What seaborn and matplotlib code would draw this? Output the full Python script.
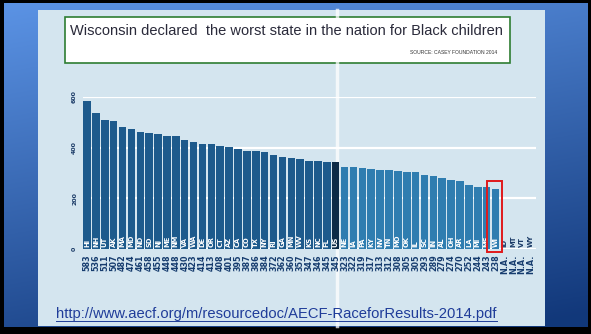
import numpy as np
import pandas as pd
import matplotlib.pyplot as plt
import seaborn as sns
from matplotlib.patches import Rectangle
from matplotlib.lines import Line2D

# Race for Results index, Black children, 2014
states = ["HI", "NH", "UT", "AK", "MA", "MD", "ND", "SD", "NJ", "ME", "NM", "VA", "WA",
          "DE", "OR", "CT", "AZ", "CA", "CO", "TX", "NY", "RI", "GA", "MN", "WV", "KS",
          "NC", "FL", "US", "NE", "IA", "PA", "KY", "NV", "TN", "MO", "OK", "IL", "SC",
          "IN", "AL", "OH", "AR", "LA", "MI", "MS", "WI"]
scores = [583, 536, 511, 507, 482, 474, 461, 458, 455, 448, 448, 430, 423,
          414, 413, 408, 401, 395, 387, 386, 384, 372, 362, 360, 357, 347,
          346, 345, 345, 323, 322, 319, 317, 313, 312, 308, 305, 305, 293,
          289, 279, 274, 270, 252, 244, 243, 238]
na_states = ["ID", "MT", "VT", "WY"]
yticks = [0, 200, 400, 600]

groups = []
for s in states:
    if s == "US":
        groups.append("us")
    elif states.index(s) < states.index("US"):
        groups.append("above")
    else:
        groups.append("below")
df = pd.DataFrame({"state": states, "score": scores, "group": groups})
order = states + na_states

W, H = 591, 334
fig = plt.figure(figsize=(W / 100, H / 100), dpi=100)

# slide background
bg = fig.add_axes([0, 0, 1, 1])
xx, yy = np.meshgrid(np.linspace(0, 1, 200), np.linspace(0, 1, 200))
top = np.array([0.36, 0.58, 0.90])
bot = np.array([0.07, 0.22, 0.48])
t = np.clip(yy * 0.8 + xx * 0.25, 0, 1)[..., None]
img = top * (1 - t) + bot * t
bg.imshow(img, extent=[0, 1, 0, 1], aspect="auto", origin="upper")
bg.set_xlim(0, 1)
bg.set_ylim(0, 1)
bg.axis("off")

def px(x0, y0, x1, y1, **kw):
    bg.add_patch(Rectangle((x0 / W, 1 - y1 / H), (x1 - x0) / W, (y1 - y0) / H, **kw))

px(0, 0, W, 3, color="black", lw=0)
px(0, 0, 4, H, color="black", lw=0)
px(W - 3, 0, W, H, color="black", lw=0)
px(0, 327, W, H, color="black", lw=0)
px(38, 10, 545, 326, color="#d4e5ef", lw=0)
bg.add_line(Line2D([337 / W, 337 / W], [1 - 326 / H, 1 - 10 / H], color="white", lw=2.5, alpha=0.75))
px(65, 17, 510, 63, facecolor="white", edgecolor="#2e7d32", lw=1.2)
bg.text(70 / W, 1 - 31 / H, "Wisconsin declared  the worst state in the nation for Black children",
        fontsize=10.5, family="Liberation Sans", color="#2a2a3a", va="center", ha="left")
bg.text(497 / W, 1 - 53 / H, "SOURCE: CASEY FOUNDATION 2014", fontsize=3.6,
        family="Liberation Sans", color="#333333", va="center", ha="right")
bg.text(56 / W, 1 - 314 / H, "http://www.aecf.org/m/resourcedoc/AECF-RaceforResults-2014.pdf",
        fontsize=10.6, family="Liberation Sans", color="#1f3c99", va="center", ha="left")
bg.add_line(Line2D([56 / W, 497 / W], [1 - 321 / H, 1 - 321 / H], color="#1f3c99", lw=0.7))

# chart
ax = fig.add_axes([82.6 / W, 85 / H, (535.5 - 82.6) / W, 152 / H])
ax.patch.set_alpha(0)
palette = {"above": "#1d5a8c", "us": "#0c2a46", "below": "#2f7db0"}
sns.barplot(data=df, x="state", y="score", hue="group", order=order, palette=palette,
            dodge=False, legend=False, width=0.85, saturation=1, ax=ax, zorder=3)
ax.set_xlim(-0.5, len(order) - 0.5)
ax.set_ylim(0, 600)
ax.set_yticks(yticks)
ax.set_yticklabels([str(v) for v in yticks], rotation=90, va="center", fontsize=4.5,
                   fontweight="bold", color="#1a3a66")
ax.tick_params(axis="y", length=0, pad=4)
ax.set_xticks([])
ax.set_xlabel("")
ax.set_ylabel("")
for sp in ax.spines.values():
    sp.set_visible(False)
ax.grid(axis="y", color="white", lw=1.6, zorder=1)
ax.grid(axis="x", visible=False)
ax.set_axisbelow(True)

for i, s in enumerate(order):
    if s in states:
        v = str(scores[states.index(s)])
        col = "white"
    else:
        v = "N.A."
        col = "#1a3a66"
    ax.text(i, 8, s, rotation=90, ha="center", va="bottom", fontsize=4.9,
            fontweight="bold", color=col, zorder=5)
    ax.text(i, -22, v, rotation=90, ha="center", va="top", fontsize=5.8,
            fontweight="bold", color="#163c6e", clip_on=False)

wi = order.index("WI")
ax.add_patch(Rectangle((wi - 1.0, -12), 1.75, 281, fill=False, edgecolor="#e0191b",
                       lw=1.4, clip_on=False, zorder=6))

fig.savefig("out.png", dpi=100)
